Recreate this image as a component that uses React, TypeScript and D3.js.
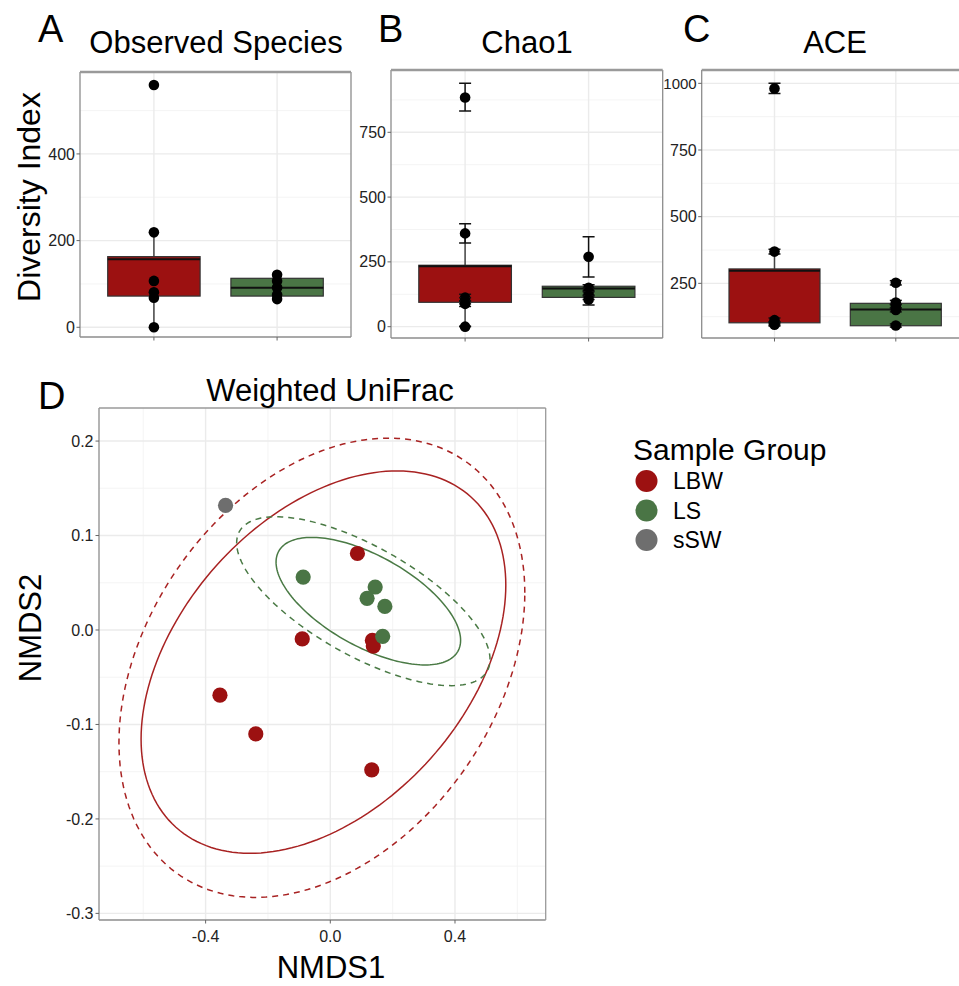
import React from "react";
import * as d3 from "d3";

// ---- alpha diversity (panels A-C) ----
const metrics = ["Observed Species", "Chao1", "ACE"];
const boxGroups = ["LBW", "LS"];

// box stats: [lower whisker, q1, median, q3, upper whisker]
const observedBoxLBW = [0, 72, 157, 163, 220];
const observedBoxLS = [65, 72, 91, 113, 121];
const chao1BoxLBW = [0, 94, 233, 237, 360];
const chao1BoxLS = [84, 113, 147, 156, 156];
const aceBoxLBW = [95, 102, 297, 304, 369];
const aceBoxLS = [91, 91, 152, 175, 254];

// sample points
const observedPtsLBW = [559, 219, 107, 81, 68, 0];
const observedPtsLS = [121, 107, 92, 75, 65];
const chao1PtsLBW = [884, 360, 112, 100, 88, 0];
const chao1LoLBW = [832, 323, 100, 88, 78, 0];
const chao1HiLBW = [939, 397, 125, 112, 98, 2];
const chao1PtsLS = [270, 150, 135, 120, 105];
const chao1LoLS = [192, 140, 122, 105, 84];
const chao1HiLS = [347, 162, 148, 135, 118];
const acePtsLBW = [981, 369, 112, 100, 95];
const aceLoLBW = [962, 360, 105, 94, 90];
const aceHiLBW = [1000, 378, 120, 106, 100];
const acePtsLS = [252, 178, 165, 150, 92];
const aceLoLS = [244, 170, 158, 143, 86];
const aceHiLS = [260, 186, 172, 157, 98];

const observedTicks = [0, 200, 400];
const chao1Ticks = [0, 250, 500, 750];
const aceTicks = [250, 500, 750, 1000];

// ---- NMDS (panel D) ----
const sampleGroups = ["LBW", "LS", "sSW"];
const nmdsGroup = ["sSW", "LBW", "LBW", "LBW", "LBW", "LBW", "LBW", "LBW", "LS", "LS", "LS", "LS", "LS"];
const nmds1 = [-0.336, 0.087, -0.09, 0.135, 0.138, -0.354, -0.239, 0.133, -0.087, 0.144, 0.118, 0.175, 0.168];
const nmds2 = [0.132, 0.081, -0.0095, -0.011, -0.017, -0.069, -0.11, -0.148, 0.056, 0.0455, 0.0335, 0.025, -0.0067];

// ellipses: centre, sd along each axis, correlation
const ellipseGroup = ["LBW", "LBW", "LS", "LS"];
const ellipseDashed = [false, true, false, true];
const ellipseCx = [-0.022, -0.027, 0.122, 0.106];
const ellipseCy = [-0.034, -0.04, 0.0305, 0.0305];
const ellipseSx = [0.585, 0.651, 0.296, 0.4064];
const ellipseSy = [0.2024, 0.2431, 0.0675, 0.0894];
const ellipseR = [0.4026, 0.327, -0.613, -0.69];

const nmdsXTicks = [-0.4, 0.0, 0.4];
const nmdsXMinor = [-0.6, -0.2, 0.2, 0.6];
const nmdsYTicks = [0.2, 0.1, 0.0, -0.1, -0.2, -0.3];
const nmdsYMinor = [0.15, 0.05, -0.05, -0.15, -0.25];

const colors: Record<string, string> = { LBW: "#9c1111", LS: "#4a7545", sSW: "#6e6e6e" };
const ellipseColors: Record<string, string> = { LBW: "#a82222", LS: "#4a7a45" };
const FONT = "'Liberation Sans', Arial, Helvetica, sans-serif";

const panels = [
  {
    left: 80, right: 351, top: 72, bottom: 337, dom: [-22.4, 589],
    ticks: observedTicks, minor: [100, 300, 500],
    box: [observedBoxLBW, observedBoxLS],
    pts: [observedPtsLBW, observedPtsLS], lo: null as null | number[][], hi: null as null | number[][],
    titleX: 216, letter: "A", letterX: 38,
  },
  {
    left: 391, right: 662.7, top: 70, bottom: 338, dom: [-43.7, 990.4],
    ticks: chao1Ticks, minor: [125, 375, 625, 875],
    box: [chao1BoxLBW, chao1BoxLS],
    pts: [chao1PtsLBW, chao1PtsLS], lo: [chao1LoLBW, chao1LoLS], hi: [chao1HiLBW, chao1HiLS],
    titleX: 527, letter: "B", letterX: 378,
  },
  {
    left: 701.7, right: 968.6, top: 70, bottom: 338, dom: [45, 1050],
    ticks: aceTicks, minor: [125, 375, 625, 875],
    box: [aceBoxLBW, aceBoxLS],
    pts: [acePtsLBW, acePtsLS], lo: [aceLoLBW, aceLoLS], hi: [aceHiLBW, aceHiLS],
    titleX: 835, letter: "C", letterX: 683,
  },
];

function BoxPanel({ p, title }: { p: (typeof panels)[number]; title: string }) {
  const x = d3.scalePoint<string>().domain(boxGroups).range([p.left, p.right]).padding(0.6);
  const y = d3.scaleLinear().domain(p.dom).range([p.bottom, p.top]);
  const bw = x.step() * 0.75;
  const clipId = "clip-" + p.letter;
  return (
    <g>
      <clipPath id={clipId}>
        <rect x={p.left} y={p.top} width={p.right - p.left} height={p.bottom - p.top} />
      </clipPath>
      <rect x={p.left} y={p.top} width={p.right - p.left} height={p.bottom - p.top} fill="#fff" />
      <g clipPath={`url(#${clipId})`}>
        {p.minor.map((v) => (
          <line key={"mn" + v} x1={p.left} x2={p.right} y1={y(v)} y2={y(v)} stroke="#f3f3f3" strokeWidth={0.9} />
        ))}
        {p.ticks.map((v) => (
          <line key={"mj" + v} x1={p.left} x2={p.right} y1={y(v)} y2={y(v)} stroke="#ebebeb" strokeWidth={1.4} />
        ))}
        {boxGroups.map((g) => (
          <line key={"vg" + g} x1={x(g)} x2={x(g)} y1={p.top} y2={p.bottom} stroke="#ebebeb" strokeWidth={1.4} />
        ))}
        {boxGroups.map((g, gi) => {
          const [lo, q1, med, q3, hi] = p.box[gi];
          const cx = x(g)!;
          return (
            <g key={"box" + g}>
              <line x1={cx} x2={cx} y1={y(hi)} y2={y(q3)} stroke="#444" strokeWidth={1.5} />
              <line x1={cx} x2={cx} y1={y(q1)} y2={y(lo)} stroke="#444" strokeWidth={1.5} />
              <rect x={cx - bw / 2} y={y(q3)} width={bw} height={y(q1) - y(q3)} fill={colors[g]} stroke="#333" strokeWidth={1.2} />
              <line x1={cx - bw / 2} x2={cx + bw / 2} y1={y(med)} y2={y(med)} stroke="#111" strokeWidth={2} />
            </g>
          );
        })}
        {boxGroups.map((g, gi) =>
          p.pts[gi].map((v, i) => {
            const cx = x(g)!;
            return (
              <g key={"pt" + g + i}>
                {p.lo && p.hi ? (
                  <g stroke="#111" strokeWidth={1.5}>
                    <line x1={cx} x2={cx} y1={y(p.lo[gi][i])} y2={y(p.hi[gi][i])} />
                    <line x1={cx - 6} x2={cx + 6} y1={y(p.lo[gi][i])} y2={y(p.lo[gi][i])} />
                    <line x1={cx - 6} x2={cx + 6} y1={y(p.hi[gi][i])} y2={y(p.hi[gi][i])} />
                  </g>
                ) : null}
                <circle cx={cx} cy={y(v)} r={5.3} fill="#000" />
              </g>
            );
          })
        )}
      </g>
      <line x1={p.left} x2={p.left} y1={p.top} y2={p.bottom} stroke="#8c8c8c" strokeWidth={1.3} />
      <line x1={p.left} x2={p.right} y1={p.bottom} y2={p.bottom} stroke="#8c8c8c" strokeWidth={1.3} />
      <line x1={p.right} x2={p.right} y1={p.top} y2={p.bottom} stroke="#8c8c8c" strokeWidth={1.3} />
      <line x1={p.left} x2={p.right} y1={p.top} y2={p.top} stroke="#9a9a9a" strokeWidth={2.6} />
      {p.ticks.map((v) => (
        <g key={"t" + v}>
          <line x1={p.left - 3.5} x2={p.left} y1={y(v)} y2={y(v)} stroke="#666" strokeWidth={1} />
          <text x={p.left - 5} y={y(v)} dy="0.35em" textAnchor="end" fontSize={v >= 1000 ? 15 : 16} fill="#222" fontFamily={FONT}>
            {v}
          </text>
        </g>
      ))}
      {boxGroups.map((g) => (
        <line key={"xt" + g} x1={x(g)} x2={x(g)} y1={p.bottom} y2={p.bottom + 3.5} stroke="#666" strokeWidth={1} />
      ))}
      <text x={p.titleX} y={53} textAnchor="middle" fontSize={31} fontFamily={FONT} fill="#000">
        {title}
      </text>
      <text x={p.letterX} y={42} fontSize={38} fontFamily={FONT} fill="#000">
        {p.letter}
      </text>
    </g>
  );
}

function NmdsPanel() {
  const left = 99, right = 545.7, top = 408, bottom = 920;
  const x = d3.scaleLinear().domain([-0.742, 0.691]).range([left, right]);
  const y = d3.scaleLinear().domain([-0.307, 0.235]).range([bottom, top]);
  const ts = d3.range(0, 2 * Math.PI + 0.001, Math.PI / 90);
  const line = d3.line<[number, number]>().x((d) => x(d[0])).y((d) => y(d[1])).curve(d3.curveLinearClosed);
  const order = nmdsGroup.map((_, i) => i);
  return (
    <g>
      <rect x={left} y={top} width={right - left} height={bottom - top} fill="#fff" />
      {nmdsXMinor.map((v) => (
        <line key={"xm" + v} x1={x(v)} x2={x(v)} y1={top} y2={bottom} stroke="#f3f3f3" strokeWidth={0.9} />
      ))}
      {nmdsYMinor.map((v) => (
        <line key={"ym" + v} x1={left} x2={right} y1={y(v)} y2={y(v)} stroke="#f3f3f3" strokeWidth={0.9} />
      ))}
      {nmdsXTicks.map((v) => (
        <line key={"xj" + v} x1={x(v)} x2={x(v)} y1={top} y2={bottom} stroke="#ebebeb" strokeWidth={1.4} />
      ))}
      {nmdsYTicks.map((v) => (
        <line key={"yj" + v} x1={left} x2={right} y1={y(v)} y2={y(v)} stroke="#ebebeb" strokeWidth={1.4} />
      ))}
      {ellipseGroup.map((g, i) => {
        const pts: [number, number][] = ts.map((t) => [
          ellipseCx[i] + ellipseSx[i] * Math.cos(t),
          ellipseCy[i] + ellipseSy[i] * (ellipseR[i] * Math.cos(t) + Math.sqrt(1 - ellipseR[i] ** 2) * Math.sin(t)),
        ]);
        return (
          <path
            key={"el" + i}
            d={line(pts) || ""}
            fill="none"
            stroke={ellipseColors[g]}
            strokeWidth={1.5}
            strokeDasharray={ellipseDashed[i] ? "6,5" : undefined}
          />
        );
      })}
      {order.map((i) => (
        <circle key={"np" + i} cx={x(nmds1[i])} cy={y(nmds2[i])} r={7.6} fill={colors[nmdsGroup[i]]} />
      ))}
      <line x1={left} x2={left} y1={top} y2={bottom} stroke="#8c8c8c" strokeWidth={1.3} />
      <line x1={left} x2={right} y1={bottom} y2={bottom} stroke="#8c8c8c" strokeWidth={1.3} />
      <line x1={right} x2={right} y1={top} y2={bottom} stroke="#9a9a9a" strokeWidth={1.3} />
      <line x1={left} x2={right} y1={top} y2={top} stroke="#9a9a9a" strokeWidth={1.3} />
      {nmdsYTicks.map((v) => (
        <g key={"yt" + v}>
          <line x1={left - 3.5} x2={left} y1={y(v)} y2={y(v)} stroke="#666" />
          <text x={left - 5.5} y={y(v)} dy="0.35em" textAnchor="end" fontSize={16} fill="#222" fontFamily={FONT}>
            {d3.format(".1f")(v).replace("−", "-")}
          </text>
        </g>
      ))}
      {nmdsXTicks.map((v) => (
        <g key={"xt" + v}>
          <line x1={x(v)} x2={x(v)} y1={bottom} y2={bottom + 3.5} stroke="#666" />
          <text x={x(v)} y={bottom + 22} textAnchor="middle" fontSize={16} fill="#222" fontFamily={FONT}>
            {d3.format(".1f")(v).replace("−", "-")}
          </text>
        </g>
      ))}
      <text x={330} y={401} textAnchor="middle" fontSize={31} fontFamily={FONT}>
        Weighted UniFrac
      </text>
      <text x={38} y={409} fontSize={38} fontFamily={FONT}>
        D
      </text>
      <text x={331} y={978} textAnchor="middle" fontSize={31} fontFamily={FONT}>
        NMDS1
      </text>
      <text transform={`translate(41,${(top + bottom) / 2 - 36}) rotate(-90)`} textAnchor="middle" fontSize={31} fontFamily={FONT}>
        NMDS2
      </text>
      {/* legend */}
      <text x={633} y={460} fontSize={30} fontFamily={FONT}>
        Sample Group
      </text>
      {sampleGroups.map((g, i) => (
        <g key={"lg" + g} transform={`translate(0,${481 + i * 29.5})`}>
          <circle cx={646.5} cy={0} r={11} fill={colors[g]} />
          <text x={673} y={0} dy="0.36em" fontSize={23} fontFamily={FONT}>
            {g}
          </text>
        </g>
      ))}
    </g>
  );
}

export default function App() {
  return (
    <svg width={959} height={986} style={{ position: "absolute", left: 0, top: 0, background: "#fff" }}>
      <rect width={959} height={986} fill="#fff" />
      {panels.map((p, i) => (
        <BoxPanel key={metrics[i]} p={p} title={metrics[i]} />
      ))}
      <text transform="translate(40,197) rotate(-90)" textAnchor="middle" fontSize={32} fontFamily={FONT}>
        Diversity Index
      </text>
      <NmdsPanel />
    </svg>
  );
}
